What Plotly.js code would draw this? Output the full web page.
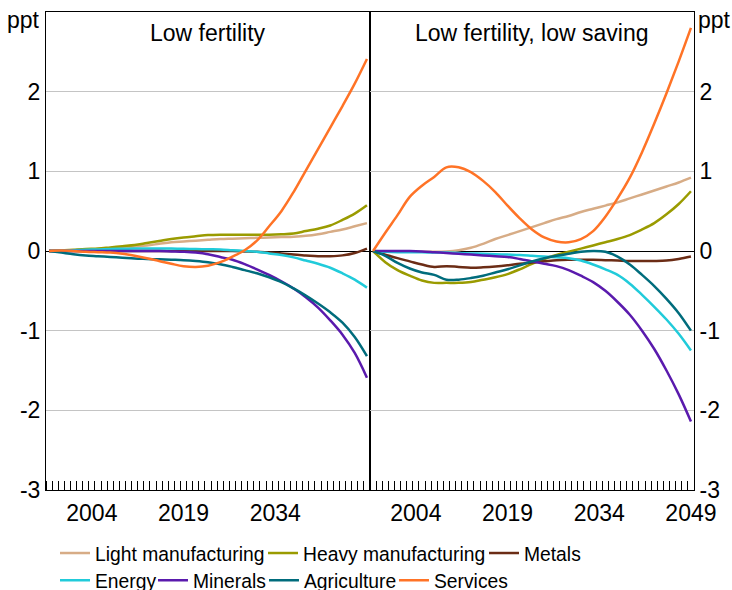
<!DOCTYPE html>
<html>
<head>
<meta charset="utf-8">
<script src="https://cdn.plot.ly/plotly-3.0.1.min.js"></script>
<style>html,body{margin:0;padding:0;background:#fff;}#chart{width:732px;height:590px;}</style>
</head>
<body>
<div id="chart"></div>
<script>
// ---- Data ----
const years = [1997,1999,2001,2003,2005,2007,2009,2011,2013,2015,2017,2019,2021,2023,2025,2027,2029,2031,2033,2035,2037,2039,2041,2043,2045,2047,2049];

const seriesNames = ["Light manufacturing","Heavy manufacturing","Metals","Energy","Minerals","Agriculture","Services"];

// Panel 1: Low fertility
const lowFert_light  = [0,0.005,0.01,0.015,0.02,0.03,0.04,0.055,0.07,0.09,0.11,0.12,0.13,0.14,0.15,0.155,0.16,0.165,0.17,0.175,0.18,0.19,0.21,0.24,0.27,0.31,0.35];
const lowFert_heavy  = [0,0.005,0.015,0.025,0.03,0.045,0.06,0.075,0.10,0.125,0.15,0.17,0.185,0.20,0.205,0.205,0.205,0.205,0.205,0.21,0.22,0.25,0.28,0.32,0.39,0.47,0.575];
const lowFert_metals = [0,0,0,0,0,0,0,0,0,0,0,0,0,0,0,0,-0.005,-0.01,-0.02,-0.03,-0.045,-0.055,-0.065,-0.065,-0.055,-0.025,0.03];
const lowFert_energy = [0,0.005,0.01,0.015,0.02,0.025,0.028,0.03,0.03,0.03,0.03,0.028,0.025,0.022,0.02,0.01,0.0,-0.01,-0.03,-0.05,-0.08,-0.12,-0.16,-0.21,-0.28,-0.36,-0.46];
const lowFert_minerals = [0,0,0,0,0,0,0,0,0,0,-0.005,-0.01,-0.02,-0.04,-0.075,-0.11,-0.165,-0.23,-0.30,-0.38,-0.47,-0.58,-0.71,-0.87,-1.05,-1.28,-1.59];
const lowFert_agri   = [0,-0.02,-0.04,-0.055,-0.065,-0.075,-0.085,-0.095,-0.10,-0.105,-0.11,-0.115,-0.125,-0.14,-0.165,-0.20,-0.24,-0.28,-0.33,-0.39,-0.47,-0.56,-0.66,-0.77,-0.90,-1.08,-1.32];
const lowFert_services = [0,0.005,0,-0.01,-0.015,-0.02,-0.035,-0.06,-0.09,-0.125,-0.16,-0.19,-0.20,-0.185,-0.14,-0.07,0.01,0.13,0.31,0.50,0.74,1.01,1.28,1.55,1.82,2.10,2.41];

// Panel 2: Low fertility, low saving
const lowSav_light  = [0,-0.005,-0.01,-0.01,-0.01,-0.01,-0.005,0.01,0.04,0.09,0.15,0.20,0.25,0.30,0.35,0.40,0.44,0.49,0.53,0.57,0.61,0.66,0.71,0.76,0.81,0.86,0.92];
const lowSav_heavy  = [0,-0.14,-0.24,-0.31,-0.37,-0.40,-0.40,-0.40,-0.39,-0.36,-0.33,-0.29,-0.23,-0.16,-0.10,-0.05,-0.01,0.03,0.07,0.11,0.15,0.20,0.27,0.35,0.46,0.59,0.75];
const lowSav_metals = [0,-0.045,-0.09,-0.13,-0.17,-0.20,-0.19,-0.20,-0.21,-0.205,-0.195,-0.18,-0.16,-0.145,-0.13,-0.115,-0.11,-0.11,-0.11,-0.115,-0.12,-0.125,-0.125,-0.125,-0.12,-0.10,-0.07];
const lowSav_energy = [0,-0.01,-0.015,-0.015,-0.015,-0.02,-0.02,-0.025,-0.03,-0.035,-0.04,-0.045,-0.05,-0.06,-0.07,-0.08,-0.09,-0.12,-0.17,-0.23,-0.30,-0.41,-0.55,-0.70,-0.86,-1.04,-1.25];
const lowSav_minerals = [0,0,0,0,-0.005,-0.015,-0.025,-0.035,-0.045,-0.055,-0.065,-0.075,-0.10,-0.13,-0.16,-0.19,-0.24,-0.31,-0.39,-0.50,-0.64,-0.80,-1.00,-1.23,-1.50,-1.80,-2.14];
const lowSav_agri   = [0,-0.06,-0.15,-0.22,-0.27,-0.30,-0.36,-0.36,-0.34,-0.31,-0.27,-0.23,-0.18,-0.13,-0.09,-0.06,-0.035,-0.01,0,-0.01,-0.07,-0.17,-0.30,-0.44,-0.60,-0.78,-1.00];
const lowSav_services = [0,0.23,0.45,0.68,0.82,0.93,1.05,1.05,0.99,0.88,0.74,0.57,0.41,0.27,0.17,0.12,0.11,0.15,0.25,0.43,0.66,0.92,1.24,1.60,1.98,2.38,2.80];

const yTickVals = [-3,-2,-1,0,1,2];
const yTickText = ["-3","-2","-1","0","1","2"];
const xTickLeft = [2004,2019,2034];
const xTickRight = [2004,2019,2034,2049];
const panelTitles = ["Low fertility","Low fertility, low saving"];
const unitLabel = "ppt";

// ---- Styles ----
const colors = ["#D7AC86","#9A9B00","#6B2C15","#21CBDA","#5A1AAD","#006C7C","#FF7326"];
const FONT = "Liberation Sans, Arial, sans-serif";
// legend placement (paper x of each legend box, paper y of its row)
const legendX = [0.0139,0.3349,0.6759,0.0139,0.1651,0.3364,0.5370];
const legendRowY = [-0.092,-0.092,-0.092,-0.149,-0.149,-0.149,-0.149];

const panel1 = [lowFert_light,lowFert_heavy,lowFert_metals,lowFert_energy,lowFert_minerals,lowFert_agri,lowFert_services];
const panel2 = [lowSav_light,lowSav_heavy,lowSav_metals,lowSav_energy,lowSav_minerals,lowSav_agri,lowSav_services];

const legendId = i => i===0 ? 'legend' : 'legend'+(i+1);

const traces = [];
panel1.forEach((ys,i)=>{
  traces.push({x:years,y:ys,xaxis:'x',yaxis:'y',type:'scatter',mode:'lines',name:seriesNames[i],
    line:{color:colors[i],width:2.5,shape:'spline',smoothing:1},
    legend: legendId(i), showlegend:true, hoverinfo:'skip'});
});
panel2.forEach((ys,i)=>{
  traces.push({x:years,y:ys,xaxis:'x2',yaxis:'y2',type:'scatter',mode:'lines',name:seriesNames[i],
    line:{color:colors[i],width:2.5,shape:'spline',smoothing:1},
    showlegend:false, hoverinfo:'skip'});
});

const xCommon = {
  range:[1996.5,2049.5], showgrid:false, zeroline:false,
  showline:true, linecolor:'#000', linewidth:1, mirror:true,
  tickmode:'array', ticks:'', ticklabelstandoff:2,
  tickfont:{family:FONT,size:23,color:'#000'},
  minor:{tickmode:'linear', tick0:1996.5, dtick:1, ticks:'inside', ticklen:9, tickcolor:'#000', tickwidth:1, showgrid:false}
};
const yCommon = {
  range:[-3,3], tickmode:'array', tickvals:yTickVals, ticktext:yTickText,
  showgrid:true, gridcolor:'#c4c4c4', gridwidth:1,
  zeroline:true, zerolinecolor:'#000', zerolinewidth:1,
  showline:true, linecolor:'#000', linewidth:1, mirror:true,
  ticks:'', ticklabelstandoff:0,
  tickfont:{family:FONT,size:23,color:'#000'}
};

const layout = {
  width:732, height:590,
  paper_bgcolor:'#fff', plot_bgcolor:'#fff',
  margin:{l:46,r:38,t:12,b:100,autoexpand:false},
  font:{family:FONT,color:'#000'},
  xaxis:Object.assign({},xCommon,{domain:[0,0.5],anchor:'y',tickvals:xTickLeft}),
  xaxis2:Object.assign({},xCommon,{domain:[0.5,1],anchor:'y2',tickvals:xTickRight}),
  yaxis:Object.assign({},yCommon,{anchor:'x',side:'left'}),
  yaxis2:Object.assign({},yCommon,{anchor:'x2',side:'right'}),
  showlegend:true,
  annotations:[
    {text:panelTitles[0],xref:'paper',yref:'paper',x:0.25,y:0.956,xanchor:'center',yanchor:'middle',showarrow:false,font:{family:FONT,size:23,color:'#000'}},
    {text:panelTitles[1],xref:'paper',yref:'paper',x:0.75,y:0.956,xanchor:'center',yanchor:'middle',showarrow:false,font:{family:FONT,size:23,color:'#000'}},
    {text:unitLabel,xref:'paper',yref:'paper',x:0,xshift:-4,y:0.983,xanchor:'right',yanchor:'middle',showarrow:false,font:{family:FONT,size:23,color:'#000'}},
    {text:unitLabel,xref:'paper',yref:'paper',x:1,xshift:2,y:0.983,xanchor:'left',yanchor:'middle',showarrow:false,font:{family:FONT,size:23,color:'#000'}}
  ]
};
seriesNames.forEach((n,i)=>{
  layout[legendId(i)] = {orientation:'h',x:legendX[i],xanchor:'left',y:legendRowY[i],yanchor:'top',
    font:{family:FONT,size:19.3,color:'#000'},itemwidth:30,tracegroupgap:0,bgcolor:'rgba(0,0,0,0)',borderwidth:0};
});

Plotly.newPlot('chart',traces,layout,{staticPlot:true,displayModeBar:false});
</script>
</body>
</html>
